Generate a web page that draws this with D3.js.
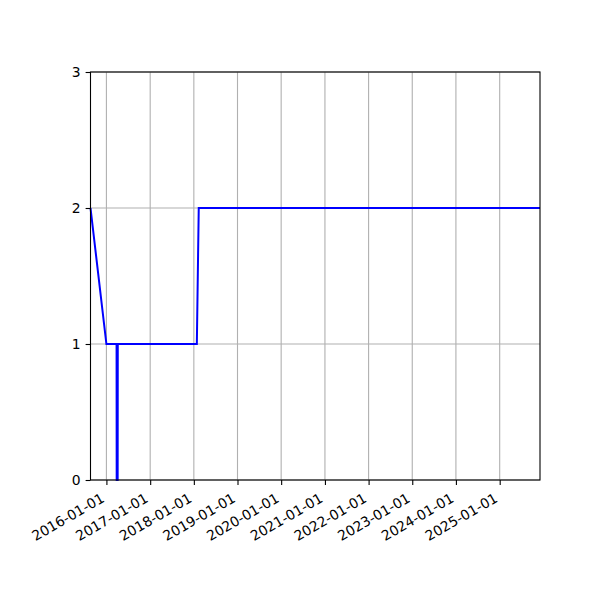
<!DOCTYPE html>
<html>
<head>
<meta charset="utf-8">
<script src="https://cdn.jsdelivr.net/npm/d3@7"></script>
<style>
  html, body { margin: 0; padding: 0; background: #fff; }
  svg text { font-family: "DejaVu Sans", sans-serif; }
</style>
</head>
<body>
<div id="chart"></div>
<script>
// 数据: 日期 / 数值, 直接读自原图
const dates = ["2015-08-21", "2016-01-01", "2016-03-26", "2016-03-27", "2016-04-04",
  "2016-04-05", "2018-01-26", "2018-02-11", "2025-12-04"];
const values = [2, 1, 1, 0, 0, 1, 1, 2, 2];
const xTickLabels = ["2016-01-01", "2017-01-01", "2018-01-01", "2019-01-01", "2020-01-01",
  "2021-01-01", "2022-01-01", "2023-01-01", "2024-01-01", "2025-01-01"];
const yTicks = [0, 1, 2, 3];

const W = 600, H = 600;
const margin = { top: 72, right: 60, bottom: 120, left: 90.5 };
const iw = W - margin.left - margin.right, ih = H - margin.top - margin.bottom;
const parse = d3.timeParse("%Y-%m-%d");
const pts = dates.map((d, i) => ({ t: parse(d), v: values[i] }));

const x = d3.scaleTime().domain(d3.extent(pts, (d) => d.t)).range([0, iw]);
const y = d3.scaleLinear().domain([0, 3]).range([ih, 0]);

const svg = d3.select("#chart").append("svg").attr("width", W).attr("height", H);
const g = svg.append("g").attr("transform", `translate(${margin.left},${margin.top})`);

// 网格
g.append("g").selectAll("line").data(xTickLabels.map(parse)).join("line")
  .attr("x1", (d) => x(d)).attr("x2", (d) => x(d)).attr("y1", 0).attr("y2", ih)
  .attr("stroke", "#b0b0b0").attr("stroke-width", 1.1);
g.append("g").selectAll("line").data(yTicks).join("line")
  .attr("x1", 0).attr("x2", iw).attr("y1", (d) => y(d)).attr("y2", (d) => y(d))
  .attr("stroke", "#b0b0b0").attr("stroke-width", 1.1);

// 折线
const line = d3.line().x((d) => x(d.t)).y((d) => y(d.v));
g.append("path").datum(pts).attr("d", line).attr("fill", "none")
  .attr("stroke", "#0000ff").attr("stroke-width", 2).attr("stroke-linejoin", "miter");

// 坐标轴
const xAxis = g.append("g").attr("transform", `translate(0,${ih})`)
  .call(d3.axisBottom(x).tickValues(xTickLabels.map(parse))
    .tickFormat(d3.timeFormat("%Y-%m-%d")).tickSizeInner(4.9).tickSizeOuter(0).tickPadding(0));
xAxis.select(".domain").remove();
xAxis.selectAll(".tick line").attr("stroke", "#000").attr("stroke-width", 1.1);
xAxis.selectAll(".tick text")
  .attr("font-size", 13.9).attr("fill", "#000")
  .attr("text-anchor", "end").attr("dy", null).attr("y", null)
  .attr("transform", "translate(-1.5,21) rotate(-30)");

const yAxis = g.append("g")
  .call(d3.axisLeft(y).tickValues(yTicks).tickFormat(d3.format("d"))
    .tickSizeInner(4.9).tickSizeOuter(0).tickPadding(4.9));
yAxis.select(".domain").remove();
yAxis.selectAll(".tick line").attr("stroke", "#000").attr("stroke-width", 1.1);
yAxis.selectAll(".tick text").attr("font-size", 13.9).attr("fill", "#000");

// 边框
g.append("rect").attr("width", iw).attr("height", ih)
  .attr("fill", "none").attr("stroke", "#000").attr("stroke-width", 1.1);
</script>
</body>
</html>
